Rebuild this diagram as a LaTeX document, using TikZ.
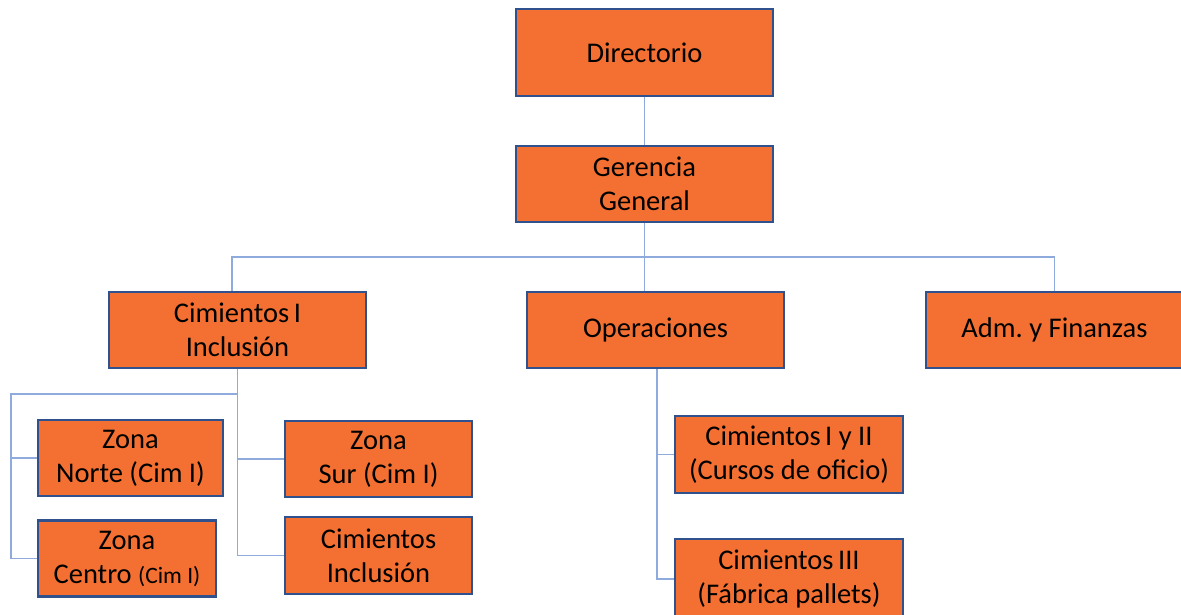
\documentclass[tikz,border=0pt]{standalone}
\usepackage{fontspec}
\setmainfont{Carlito}
\definecolor{boxfill}{HTML}{F37032}
\definecolor{boxline}{HTML}{2F528F}
\definecolor{conn}{HTML}{8FAADC}
\begin{document}
\begin{tikzpicture}[x=1pt,y=-1pt,
  unit/.style={draw=boxline,line width=2.5pt,fill=boxfill,inner sep=0pt,align=center,
    font=\fontsize{28.5}{34}\selectfont,text=black},
  link/.style={draw=conn,line width=1.3pt}]
\useasboundingbox (0,0) rectangle (1181,614);
\node[unit,minimum width=257,minimum height=87] (dir) at (644.5,52.5) {Directorio};
\node[unit,minimum width=257,minimum height=76] (ger) at (644.5,184) {Gerencia\\General};
\node[unit,minimum width=257,minimum height=76] (cim1) at (237.5,330) {Cimientos\kern4.5pt I\\Inclusión};
\node[unit,minimum width=257,minimum height=76] (ope) at (655.5,330) {Operaciones};
\node[unit,minimum width=257,minimum height=76] (adm) at (1054.5,330) {Adm.\ y Finanzas};
\node[unit,minimum width=185,minimum height=76] (norte) at (130.5,458) {Zona\\Norte (Cim I)};
\node[unit,minimum width=178,minimum height=76] (centro) at (127,558.5) {Zona\\Centro {\fontsize{23.5}{34}\selectfont(Cim I)}};
\node[unit,minimum width=187,minimum height=76] (sur) at (378.5,459) {Zona\\Sur (Cim I)};
\node[unit,minimum width=187,minimum height=77] (cincl) at (378.5,555.5) {Cimientos\\Inclusión};
\node[unit,minimum width=228,minimum height=77] (c12) at (789,454.5) {Cimientos\kern4.5pt I y II\\(Cursos de oficio)};
\node[unit,minimum width=228,minimum height=80] (c3) at (789,579) {Cimientos\kern4.5pt III\\(Fábrica pallets)};
% connectors
\coordinate (h1) at (644.5,257);
\coordinate (lb) at (11,394);
\draw[link] (dir.south) -- (ger.north);
\draw[link] (ger.south) -- (ger.south |- ope.north);
\draw[link] ([xshift=-5.5pt]cim1.north) |- (h1) -| (adm.north);
\draw[link] (cim1.south) |- (lb) |- (centro.west);
\draw[link] (lb |- norte.west) -- (norte.west);
\draw[link] (cim1.south) |- (cincl.west);
\draw[link] (cim1.south |- sur.west) -- (sur.west);
\draw[link] ([xshift=1.5pt]ope.south) |- (c3.west);
\draw[link] ([xshift=1.5pt]ope.south |- c12.west) -- (c12.west);
\end{tikzpicture}
\end{document}
